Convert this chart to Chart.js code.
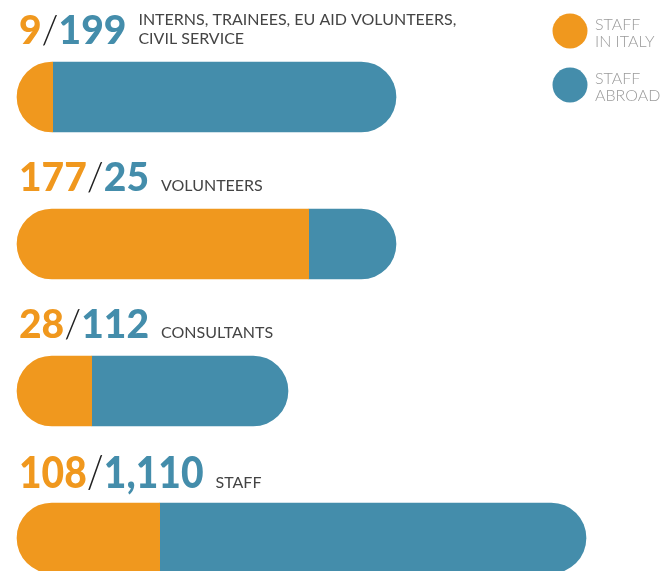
<!DOCTYPE html>
<html>
<head>
<meta charset="utf-8">
<script src="https://cdn.jsdelivr.net/npm/chart.js@4.4.1/dist/chart.umd.min.js"></script>
<style>
  html, body { margin: 0; padding: 0; background: #fff; }
  #wrap { width: 661px; height: 571px; position: relative; }
</style>
</head>
<body>
<div id="wrap"><canvas id="staffChart"></canvas></div>
<script>
// Categories and head counts
const categories = [
    ['INTERNS, TRAINEES, EU AID VOLUNTEERS,', 'CIVIL SERVICE'],
    'VOLUNTEERS',
    'CONSULTANTS',
    'STAFF'
];
const staffItaly = [9, 177, 28, 108];
const staffAbroad = [199, 25, 112, 1110];

// Segment lengths as drawn in the original (bars are not to scale with the counts)
const italyBar = [36, 292, 75, 143];
const abroadBar = [343, 87, 196, 426];

const seriesLabels = [['STAFF', 'IN ITALY'], ['STAFF', 'ABROAD']];
const orange = '#F0981E';
const blue = '#448DAB';

const totals = italyBar.map((v, i) => v + abroadBar[i]);

// Orange is drawn as a full pill, clipped to its own segment
const clipItaly = {
    id: 'clipItaly',
    beforeDatasetDraw(chart, args) {
        if (args.index !== 0) return;
        const { ctx, scales: { x, y } } = chart;
        ctx.save();
        ctx.beginPath();
        italyBar.forEach((v, i) => {
            const yc = y.getPixelForValue(i);
            const x0 = x.getPixelForValue(0) - 2;
            ctx.rect(x0, yc - 40, x.getPixelForValue(v) - x0, 80);
        });
        ctx.clip();
    },
    afterDatasetDraw(chart, args) {
        if (args.index === 0) chart.ctx.restore();
    }
};

// Big "italy/abroad" numbers, category names and the legend
const labelPlugin = {
    id: 'groupLabels',
    afterDraw(chart) {
        const { ctx, scales: { y } } = chart;
        ctx.save();
        ctx.textAlign = 'left';
        ctx.textBaseline = 'alphabetic';

        categories.forEach((cat, i) => {
            const big = i === categories.length - 1;
            const base = y.getPixelForValue(i) - (big ? 50 : 53);
            let xPos = 19;

            // numbers: the last group is set a bit taller
            ctx.save();
            ctx.translate(0, base);
            ctx.scale(1, big ? 1.14 : 1);
            ctx.font = '900 39px Lato';
            ctx.fillStyle = orange;
            const a = staffItaly[i].toLocaleString('en-US');
            ctx.fillText(a, xPos, 0);
            xPos += ctx.measureText(a).width;

            ctx.font = '300 39px Lato';
            ctx.fillStyle = '#222';
            ctx.fillText('/', xPos, 0);
            xPos += ctx.measureText('/').width;

            ctx.font = '900 39px Lato';
            ctx.fillStyle = blue;
            const b = staffAbroad[i].toLocaleString('en-US');
            ctx.fillText(b, xPos, 0);
            xPos += ctx.measureText(b).width + 12;
            ctx.restore();

            ctx.font = '16px Lato';
            ctx.fillStyle = '#444';
            const lines = Array.isArray(cat) ? cat : [cat];
            lines.forEach((line, k) => {
                ctx.fillText(line, xPos, base - (lines.length - 1 - k) * 19);
            });
        });

        // legend
        const colors = [orange, blue];
        seriesLabels.forEach((lines, i) => {
            const cy = 31 + i * 54;
            ctx.beginPath();
            ctx.arc(570, cy, 17.5, 0, Math.PI * 2);
            ctx.fillStyle = colors[i];
            ctx.fill();
            ctx.font = '300 16px Lato';
            ctx.fillStyle = '#9a9a9a';
            lines.forEach((line, k) => {
                ctx.fillText(line, 595, cy - 1 + k * 17);
            });
        });
        ctx.restore();
    }
};

document.addEventListener('DOMContentLoaded', () => {
    const ctx = document.getElementById('staffChart');
    new Chart(ctx, {
        type: 'bar',
        data: {
            labels: categories,
            datasets: [{
                label: 'Staff in Italy',
                data: totals.map(t => [0, t]),
                backgroundColor: orange,
                borderRadius: 35,
                borderSkipped: false,
                barThickness: 70,
                grouped: false,
                clip: false
            }, {
                label: 'Staff abroad',
                data: italyBar.map((v, i) => [v, totals[i]]),
                backgroundColor: blue,
                borderRadius: { topLeft: 0, bottomLeft: 0, topRight: 35, bottomRight: 35 },
                borderSkipped: false,
                barThickness: 70,
                grouped: false,
                clip: false
            }]
        },
        options: {
            indexAxis: 'y',
            responsive: true,
            maintainAspectRatio: false,
            animation: false,
            layout: { padding: { left: 17, right: 0, top: 97, bottom: 33 } },
            scales: {
                x: { type: 'linear', min: 0, max: 644, display: false },
                y: { offset: false, display: false }
            },
            plugins: {
                legend: { display: false },
                tooltip: { enabled: false }
            }
        },
        plugins: [clipItaly, labelPlugin]
    });
});
</script>
</body>
</html>
